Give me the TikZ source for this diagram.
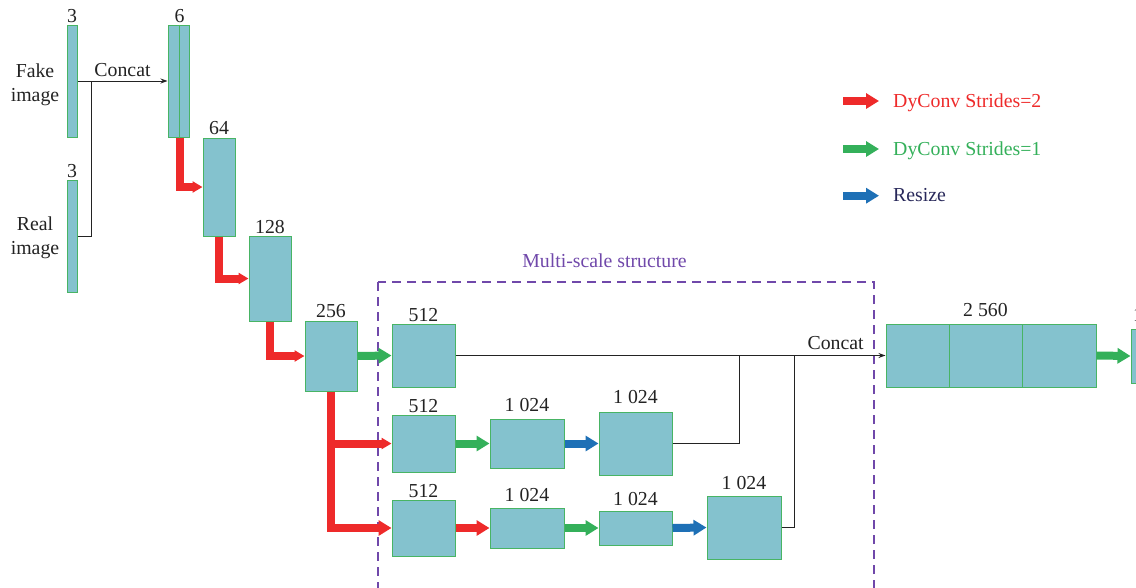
\documentclass[tikz,border=0pt]{standalone}
\usepackage{fontspec}
\setmainfont{Liberation Serif}
\usetikzlibrary{arrows.meta,positioning}
\definecolor{mapfill}{RGB}{132,194,206}
\definecolor{mapedge}{RGB}{72,180,100}
\definecolor{stridetwo}{RGB}{238,42,42}
\definecolor{strideone}{RGB}{52,176,90}
\definecolor{resizecol}{RGB}{30,112,182}
\definecolor{msccolor}{RGB}{112,72,170}
\definecolor{txtcolor}{RGB}{35,35,35}
\definecolor{navytxt}{RGB}{40,40,90}
\tikzset{
  fmap/.style={draw=mapedge, fill=mapfill, line width=1pt, inner sep=0pt},
  numlbl/.style={inner sep=0pt, text=txtcolor},
  redturn/.style={-{Triangle[length=10pt,width=11pt]}, line width=8pt, stridetwo},
  redarr/.style={-{Triangle[length=13pt,width=15pt]}, line width=8pt, stridetwo},
  greenarr/.style={-{Triangle[length=13pt,width=15pt]}, line width=8pt, strideone},
  bluearr/.style={-{Triangle[length=13pt,width=15pt]}, line width=8pt, resizecol},
  catln/.style={line width=1pt, txtcolor},
  catarr/.style={catln, -{Stealth[length=7pt,width=5pt]}},
}

\begin{document}
\begin{tikzpicture}[x=1pt, y=-1pt, font=\fontsize{19.8}{24.5}\selectfont]
    \useasboundingbox (0,0) rectangle (1136,587);
    % inputs
    \node[fmap, minimum width=10pt, minimum height=112pt] (fake) at (72,81) {};
    \node[fmap, minimum width=10pt, minimum height=112pt] (real) at (72,236) {};
    \node[numlbl, above=2pt of fake] (fake-n) {3};
    \node[numlbl, above=2pt of real] (real-n) {3};
    \node[align=center, text=txtcolor, inner sep=0pt] (fakelbl) at (35,84.6) {Fake\\image};
    \node[align=center, text=txtcolor, inner sep=0pt] (reallbl) at (35,238) {Real\\image};
    \node[fmap, minimum width=11pt, minimum height=112pt] (cat1) at (173.5,81) {};
    \node[fmap, minimum width=10pt, minimum height=112pt] (cat2) at (184,81) {};
    \node[numlbl, above=2pt of cat1.north east] (cat-n) {6};
    \coordinate (jA) at (91,81);
    \draw[catln] (real.east) -| (jA);
    \draw[catarr] (fake.east) -- (cat1.west) node[midway, above=4pt, inner sep=0pt, text=txtcolor] (catA) {Concat};
    % encoder
    \node[fmap, minimum width=32pt, minimum height=98pt] (c64) at (219,187) {};
    \node[fmap, minimum width=42pt, minimum height=85pt] (c128) at (270,278.5) {};
    \node[fmap, minimum width=52pt, minimum height=70pt] (c256) at (331,356) {};
    \node[numlbl, above=3pt of c64] (c64-n) {64};
    \node[numlbl, above=2pt of c128] (c128-n) {128};
    \node[numlbl, above=3pt of c256] (c256-n) {256};
    \draw[redturn] (cat1.south east) |- (c64.west);
    \draw[redturn] (c64.south) |- (c128.west);
    \draw[redturn] (c128.south) |- (c256.west);
    % multi-scale part
    \draw[msccolor, line width=1.1pt, dash pattern=on 9pt off 6pt] (378,282) rectangle (874,600);
    \node[text=msccolor, anchor=base] (mstitle) at (604.5,267) {Multi-scale structure};
    \node[fmap, minimum width=63pt, minimum height=63pt] (a512) at (423.5,355.5) {};
    \node[fmap, minimum width=63pt, minimum height=57pt] (b512) at (423.5,443.5) {};
    \node[fmap, minimum width=74pt, minimum height=49pt] (bk1) at (527,443.5) {};
    \node[fmap, minimum width=73pt, minimum height=63pt] (bk2) at (635.5,443.5) {};
    \node[fmap, minimum width=63pt, minimum height=56pt] (c512) at (423.5,528) {};
    \node[fmap, minimum width=74pt, minimum height=40pt] (ck1) at (527,528) {};
    \node[fmap, minimum width=73pt, minimum height=34pt] (ck2) at (635.5,528) {};
    \node[fmap, minimum width=74pt, minimum height=63pt] (ck3) at (744,527.5) {};
    \node[numlbl, above=2pt of a512] (a512-n) {512};
    \node[numlbl, above=2pt of b512] (b512-n) {512};
    \node[numlbl, above=7pt of bk1] (bk1-n) {1 024};
    \node[numlbl, above=8pt of bk2] (bk2-n) {1 024};
    \node[numlbl, above=2pt of c512] (c512-n) {512};
    \node[numlbl, above=6pt of ck1] (ck1-n) {1 024};
    \node[numlbl, above=5pt of ck2] (ck2-n) {1 024};
    \node[numlbl, above=6pt of ck3] (ck3-n) {1 024};
    \draw[greenarr] (c256.east) -- (a512.west);
    \draw[redarr] (c256.south) |- (c512.west);
    \draw[redturn] (c256.south |- b512.west) -- (b512.west);
    \draw[greenarr] (b512.east) -- (bk1.west);
    \draw[bluearr] (bk1.east) -- (bk2.west);
    \draw[redarr] (c512.east) -- (ck1.west);
    \draw[greenarr] (ck1.east) -- (ck2.west);
    \draw[bluearr] (ck2.east) -- (ck3.west);
    % fusion
    \node[fmap, minimum width=63pt, minimum height=63pt] (big1) at (917.5,355.5) {};
    \node[fmap, minimum width=73pt, minimum height=63pt] (big2) at (985.5,355.5) {};
    \node[fmap, minimum width=74pt, minimum height=63pt] (big3) at (1059,355.5) {};
    \node[numlbl, above=7pt of big2] (big-n) {2 560};
    \node[fmap, minimum width=14pt, minimum height=54pt] (out) at (1138,356) {};
    \node[numlbl, above=7pt of out] (out-n) {1};
    \coordinate (jB) at (739,355.5);
    \coordinate (jC) at (794,355.5);
    \draw[catln] (bk2.east) -| (jB);
    \draw[catln] (ck3.east) -| (jC);
    \draw[catarr] (a512.east) -- (big1.west) node[pos=0.884, above=5pt, inner sep=0pt, text=txtcolor] (catB) {Concat};
    \draw[greenarr] (big3.east) -- (out.west);
    % legend
    \coordinate (lgA0) at (843,101);
    \coordinate (lgA1) at (879,101);
    \coordinate (lgB0) at (843,149);
    \coordinate (lgB1) at (879,149);
    \coordinate (lgC0) at (843,195.7);
    \coordinate (lgC1) at (879,195.7);
    \draw[redarr] (lgA0) -- (lgA1);
    \draw[greenarr] (lgB0) -- (lgB1);
    \draw[bluearr] (lgC0) -- (lgC1);
    \node[anchor=base west, inner sep=0pt, text=stridetwo] (lgA) at (893,107.7) {DyConv Strides=2};
    \node[anchor=base west, inner sep=0pt, text=strideone] (lgB) at (893,155) {DyConv Strides=1};
    \node[anchor=base west, inner sep=0pt, text=navytxt] (lgC) at (893,201.7) {Resize};
  \end{tikzpicture}
\end{document}
